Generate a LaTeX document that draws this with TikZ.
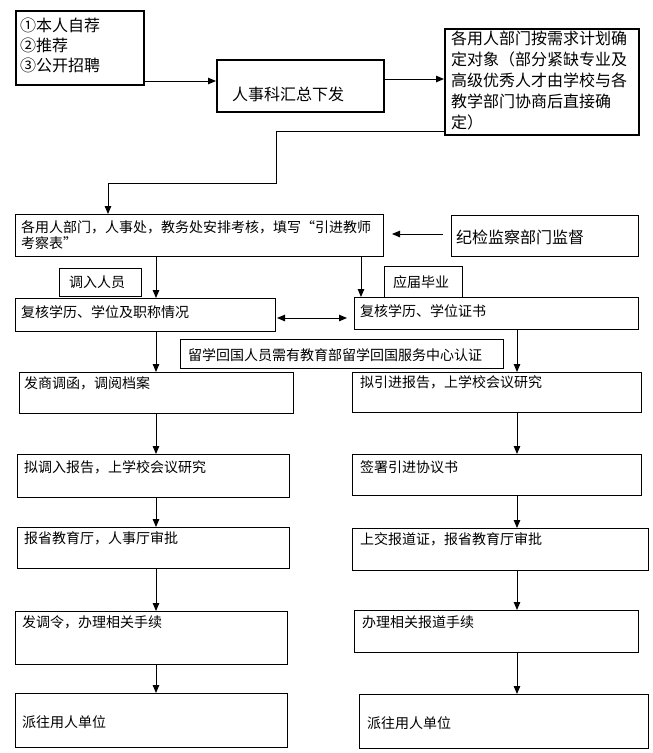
\documentclass[tikz,border=0pt]{standalone}
\usepackage{fontspec}
\setmainfont{Noto Sans CJK SC}
\usetikzlibrary{arrows.meta}
\begin{document}
\begin{tikzpicture}[x=1pt,y=-1pt,
  thinbox/.style={draw, line width=1pt, anchor=north west, inner sep=0pt},
  thickbox/.style={draw, line width=2pt, anchor=north west, inner sep=0pt},
  txt/.style={inner sep=0pt, align=left, anchor=west, font=\fontsize{14}{16.5}\selectfont},
  bigtxt/.style={inner sep=0pt, align=left, anchor=west, font=\fontsize{16}{20}\selectfont},
  arr/.style={line width=1pt, -{Triangle[length=8pt,width=6.5pt]}},
  arrtwo/.style={line width=1pt, {Triangle[length=8pt,width=6.5pt]}-{Triangle[length=8pt,width=6.5pt]}}]
\useasboundingbox[fill=white] (0,0) rectangle (653,753);

% boxes
\node[thickbox, minimum width=128pt, minimum height=74pt] (b1) at (15,10) {};
\node[thickbox, minimum width=167pt, minimum height=52pt] (b2) at (216,59) {};
\node[thickbox, minimum width=194pt, minimum height=106pt] (b3) at (444,28) {};
\node[thinbox, minimum width=368pt, minimum height=42pt] (b4) at (15,214) {};
\node[thinbox, minimum width=187pt, minimum height=41pt] (jj) at (451,215) {};
\node[thinbox, minimum width=82pt, minimum height=28pt] (dr) at (59,268) {};
\node[thinbox, minimum width=78pt, minimum height=31pt] (yj) at (384,266) {};
\node[thinbox, minimum width=260pt, minimum height=33pt] (fh1) at (15,298) {};
\node[thinbox, minimum width=284pt, minimum height=32pt] (fh2) at (354,297) {};
\node[thinbox, minimum width=323pt, minimum height=29pt] (lx) at (180,339) {};
\node[thinbox, minimum width=274pt, minimum height=41pt] (L1) at (19,372) {};
\node[thinbox, minimum width=289pt, minimum height=40pt] (R1) at (352,372) {};
\node[thinbox, minimum width=272pt, minimum height=43pt] (L2) at (17,454) {};
\node[thinbox, minimum width=289pt, minimum height=41pt] (R2) at (352,454) {};
\node[thinbox, minimum width=272pt, minimum height=41pt] (L3) at (17,527) {};
\node[thinbox, minimum width=296pt, minimum height=42pt] (R3) at (352,528) {};
\node[thinbox, minimum width=272pt, minimum height=53pt] (L4) at (15,611) {};
\node[thinbox, minimum width=284pt, minimum height=42pt] (R4) at (354,610) {};
\node[thinbox, minimum width=272pt, minimum height=54pt] (L5) at (15,693) {};
\node[thinbox, minimum width=289pt, minimum height=54pt] (R5) at (359,694) {};

% texts
\node[bigtxt] (t1) at (20,45) {①本人自荐\\②推荐\\③公开招聘};
\node[bigtxt] (t2) at (232,94) {人事科汇总下发};
\node[bigtxt, font=\fontsize{16}{21}\selectfont] (t3) at (451,80) {各用人部门按需求计划确\\定对象（部分紧缺专业及\\高级优秀人才由学校与各\\教学部门协商后直接确\\定）};
\node[txt] (t4) at (21,235) {各用人部门，人事处，教务处安排考核，填写“引进教师\\考察表”};
\node[bigtxt] (tjj) at (456,237) {纪检监察部门监督};
\node[txt] (tdr) at (69,282) {调入人员};
\node[txt] (tyj) at (393,282) {应届毕业};
\node[txt] (tfh1) at (21,312) {复核学历、学位及职称情况};
\node[txt] (tfh2) at (360,311) {复核学历、学位证书};
\node[txt] (tlx) at (188,355) {留学回国人员需有教育部留学回国服务中心认证};
\node[txt] (tL1) at (24,383) {发商调函，调阅档案};
\node[txt] (tR1) at (360,382) {拟引进报告，上学校会议研究};
\node[txt] (tL2) at (24,467) {拟调入报告，上学校会议研究};
\node[txt] (tR2) at (360,467) {签署引进协议书};
\node[txt] (tL3) at (24,538) {报省教育厅，人事厅审批};
\node[txt] (tR3) at (360,539) {上交报道证，报省教育厅审批};
\node[txt] (tL4) at (22,622) {发调令，办理相关手续};
\node[txt] (tR4) at (362,622) {办理相关报道手续};
\node[txt] (tL5) at (22,722) {派往用人单位};
\node[txt] (tR5) at (367,723) {派往用人单位};

% helper coordinates
\coordinate (y81) at (0,81);
\coordinate (y79) at (0,79);
\coordinate (k0) at (0,131);
\coordinate (k1) at (276,183);
\coordinate (k2) at (108,0);
\coordinate (k3) at (0,234);
\coordinate (k4) at (0,318);
\coordinate (cl) at (156,0);
\coordinate (cm) at (361,0);
\coordinate (cr) at (517,0);

% connectors
\draw[arr] (b1.east |- y81) -- (b2.west |- y81);
\draw[arr] (b2.east |- y79) -- (b3.west |- y79);
\draw[arr] (b3.west |- k0) -- (k1 |- k0) -- (k1) -- (k2 |- k1) -- (b4.north -| k2);
\draw[arr, shorten <=8pt, shorten >=8pt] (jj.west |- k3) -- (b4.east |- k3);
\draw[arr] (b4.south -| cl) -- (fh1.north -| cl);
\draw[arr] (b4.south -| cm) -- (fh2.north -| cm);
\draw[arrtwo, shorten <=1pt, shorten >=7pt] (fh1.east |- k4) -- (fh2.west |- k4);
\draw[arr] (fh1.south -| cl) -- (L1.north -| cl);
\draw[arr] (fh2.south -| cr) -- (R1.north -| cr);
\draw[arr] (L1.south -| cl) -- (L2.north -| cl);
\draw[arr] (R1.south -| cr) -- (R2.north -| cr);
\draw[arr] (L2.south -| cl) -- (L3.north -| cl);
\draw[arr] (R2.south -| cr) -- (R3.north -| cr);
\draw[arr] (L3.south -| cl) -- (L4.north -| cl);
\draw[arr] (R3.south -| cr) -- (R4.north -| cr);
\draw[arr] (L4.south -| cl) -- (L5.north -| cl);
\draw[arr] (R4.south -| cr) -- (R5.north -| cr);
\end{tikzpicture}
\end{document}
